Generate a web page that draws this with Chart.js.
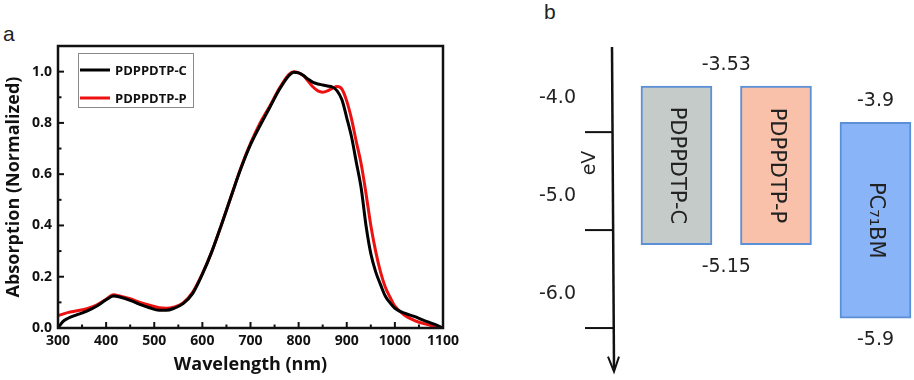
<!DOCTYPE html>
<html lang="en">
<head>
<meta charset="UTF-8" />
<title>Absorption spectra and energy levels</title>
<script src="https://cdn.jsdelivr.net/npm/chart.js"></script>
<style>
  body { margin: 0; background: #fff; width: 914px; height: 380px; position: relative; overflow: hidden; }
  canvas { position: absolute; top: 0; }
  #absCanvas { left: 0; }
  #levelCanvas { left: 500px; }
  .panel { position: absolute; font-family: "Liberation Sans", Arial, sans-serif; font-size: 21px; color: #222; }
</style>
</head>
<body>
<div class="panel" style="left:3px;top:22px">a</div>
<div class="panel" style="left:544px;top:0px">b</div>
<canvas id="absCanvas" width="495" height="380"></canvas>
<canvas id="levelCanvas" width="414" height="380"></canvas>
<script>
  // panel a : absorption spectra
  const wavelength = [300, 310, 320, 340, 360, 380, 400, 415, 430, 450, 470, 490, 510, 525, 540, 560, 580,
    600, 620, 640, 660, 680, 700, 720, 740, 760, 780, 790, 800, 810, 820, 830, 840, 850, 860, 870, 880,
    890, 900, 910, 920, 930, 940, 950, 960, 970, 980, 990, 1000, 1020, 1040, 1060, 1080, 1100];
  const absC = [0.0, 0.025, 0.037, 0.052, 0.066, 0.085, 0.11, 0.125, 0.12, 0.108, 0.092, 0.079, 0.069, 0.069, 0.076, 0.095, 0.135,
    0.21, 0.3, 0.405, 0.515, 0.622, 0.715, 0.79, 0.86, 0.93, 0.985, 0.998, 0.995, 0.985, 0.97, 0.958, 0.952, 0.948, 0.944, 0.94, 0.925,
    0.89, 0.82, 0.745, 0.645, 0.545, 0.4, 0.29, 0.22, 0.17, 0.125, 0.098, 0.077, 0.058, 0.045, 0.03, 0.016, 0.0];
  const absP = [0.048, 0.054, 0.06, 0.067, 0.075, 0.089, 0.112, 0.13, 0.124, 0.114, 0.1, 0.089, 0.079, 0.077, 0.081, 0.098, 0.14,
    0.212, 0.3, 0.405, 0.515, 0.625, 0.72, 0.8, 0.865, 0.935, 0.99, 1.0, 0.995, 0.984, 0.962, 0.94, 0.925, 0.92, 0.925, 0.935, 0.942,
    0.932, 0.885, 0.815, 0.725, 0.64, 0.525, 0.4, 0.3, 0.22, 0.16, 0.12, 0.085, 0.05, 0.03, 0.017, 0.008, 0.0];
  const seriesNames = ['PDPPDTP-C', 'PDPPDTP-P'];

  // panel b : energy levels (eV)
  const materials = ['PDPPDTP-C', 'PDPPDTP-P', 'PC\u2087\u2081BM'];
  const lumo = [-3.53, -3.53, -3.9];
  const homo = [-5.15, -5.15, -5.9];
  const evTicks = [-4, -5, -6];
  const labelGroups = [[0, 1], [2]];

  const frameTicks = {
    id: 'frameTicks',
    afterDraw(chart) {
      const { ctx, chartArea: a, scales: { x, y } } = chart;
      ctx.save();
      ctx.strokeStyle = '#111';
      ctx.lineWidth = 2;
      const tick = (x0, y0, x1, y1) => { ctx.beginPath(); ctx.moveTo(x0, y0); ctx.lineTo(x1, y1); ctx.stroke(); };
      const xv = x.ticks.map(t => t.value);
      xv.forEach((v, i) => {
        const px = x.getPixelForValue(v);
        tick(px, a.bottom, px, a.bottom - 6);
        if (i < xv.length - 1) {
          const m = x.getPixelForValue((v + xv[i + 1]) / 2);
          tick(m, a.bottom, m, a.bottom - 3.5);
        }
      });
      const yv = y.ticks.map(t => t.value);
      yv.forEach((v, i) => {
        const py = y.getPixelForValue(v);
        tick(a.left, py, a.left + 6, py);
        if (i < yv.length - 1) {
          const m = y.getPixelForValue((v + yv[i + 1]) / 2);
          tick(a.left, m, a.left + 3.5, m);
        }
      });
      ctx.lineWidth = 2.5;
      ctx.strokeRect(a.left, a.top, a.right - a.left, a.bottom - a.top);
      ctx.restore();
    }
  };

  const boxLegend = {
    id: 'boxLegend',
    afterDraw(chart) {
      const { ctx, chartArea: a } = chart;
      const bx = a.left + 20, by = a.top + 7;
      ctx.save();
      ctx.strokeStyle = '#8a8a8a';
      ctx.lineWidth = 1;
      ctx.strokeRect(bx + 0.5, by + 0.5, 115, 54);
      ctx.font = 'bold 13px "Open Sans", sans-serif';
      ctx.textBaseline = 'middle';
      chart.data.datasets.forEach((ds, i) => {
        const ry = by + 17 + i * 28;
        ctx.strokeStyle = ds.borderColor;
        ctx.lineWidth = 3;
        ctx.beginPath(); ctx.moveTo(bx + 2, ry); ctx.lineTo(bx + 32, ry); ctx.stroke();
        ctx.fillStyle = '#111';
        ctx.fillText(ds.label, bx + 37, ry + 1);
      });
      ctx.restore();
    }
  };

  new Chart(document.getElementById('absCanvas'), {
    type: 'line',
    data: {
      datasets: [
        { label: seriesNames[0], data: wavelength.map((w, i) => ({ x: w, y: absC[i] })),
          borderColor: '#000000', borderWidth: 3, pointRadius: 0, cubicInterpolationMode: 'monotone' },
        { label: seriesNames[1], data: wavelength.map((w, i) => ({ x: w, y: absP[i] })),
          borderColor: '#ee1111', borderWidth: 3, pointRadius: 0, cubicInterpolationMode: 'monotone' }
      ]
    },
    options: {
      responsive: false,
      animation: false,
      layout: { padding: { top: 46, right: 52 } },
      plugins: { legend: { display: false }, tooltip: { enabled: false } },
      scales: {
        x: {
          type: 'linear', min: 300, max: 1100,
          ticks: { stepSize: 100, callback: v => String(v), color: '#111',
            font: { family: '"Open Sans", sans-serif', size: 14, weight: 'bold' }, padding: 5, maxRotation: 0 },
          grid: { display: false, drawTicks: false },
          border: { display: false },
          title: { display: true, text: 'Wavelength (nm)', color: '#111', padding: { bottom: 4 },
            font: { family: '"Open Sans", sans-serif', size: 18, weight: 'bold' } },
          afterFit: s => { s.height = 52; }
        },
        y: {
          min: 0, max: 1.1,
          ticks: { stepSize: 0.2, includeBounds: false, callback: v => v.toFixed(1), color: '#111',
            font: { family: '"Open Sans", sans-serif', size: 14, weight: 'bold' }, padding: 6 },
          grid: { display: false, drawTicks: false },
          border: { display: false },
          title: { display: true, text: 'Absorption (Normalized)', color: '#111', padding: { top: 3 },
            font: { family: '"Open Sans", sans-serif', size: 18, weight: 'bold' } },
          afterFit: s => { s.width = 58; }
        }
      }
    },
    plugins: [frameTicks, boxLegend]
  });

  // energy level diagram
  const energyAxis = {
    id: 'energyAxis',
    afterDraw(chart) {
      const { ctx, chartArea: a, scales: { y } } = chart;
      const L = a.left;
      ctx.save();
      ctx.strokeStyle = '#111';
      ctx.fillStyle = '#111';
      ctx.lineWidth = 2.5;
      ctx.beginPath(); ctx.moveTo(L, a.top); ctx.lineTo(L + 2, a.bottom); ctx.stroke();
      ctx.lineWidth = 2;
      ctx.beginPath();
      ctx.moveTo(L - 4, a.bottom - 12); ctx.lineTo(L + 2, a.bottom + 3); ctx.lineTo(L + 7, a.bottom - 12);
      ctx.stroke();
      y.ticks.forEach(t => {
        const py = y.getPixelForValue(t.value);
        ctx.beginPath(); ctx.moveTo(L - 27, py); ctx.lineTo(L + 1, py); ctx.stroke();
      });
      ctx.font = '19px "DejaVu Sans", sans-serif';
      ctx.fillStyle = '#222';
      ctx.textAlign = 'center';
      ctx.textBaseline = 'middle';
      ctx.translate(L - 22, a.top + 116);
      ctx.rotate(-Math.PI / 2);
      ctx.fillText('eV', 0, 0);
      ctx.restore();
    }
  };

  const energyLabels = {
    id: 'energyLabels',
    afterDatasetsDraw(chart) {
      const { ctx } = chart;
      const bars = chart.getDatasetMeta(0).data.map(b => b.getProps(['x', 'y', 'base'], true));
      ctx.save();
      ctx.fillStyle = '#222';
      ctx.textAlign = 'center';
      ctx.textBaseline = 'middle';
      // names inside the bars
      ctx.font = '21px "DejaVu Sans", sans-serif';
      bars.forEach((b, i) => {
        const top = Math.min(b.y, b.base), bottom = Math.max(b.y, b.base);
        ctx.save();
        ctx.translate(b.x, (top + bottom) / 2);
        ctx.rotate(Math.PI / 2);
        ctx.fillText(materials[i], 0, 0);
        ctx.restore();
      });
      // level values
      ctx.font = '19px "DejaVu Sans", sans-serif';
      labelGroups.forEach(g => {
        const cx = g.reduce((s, i) => s + bars[i].x, 0) / g.length;
        const top = Math.min(bars[g[0]].y, bars[g[0]].base);
        const bottom = Math.max(bars[g[0]].y, bars[g[0]].base);
        ctx.fillText(String(lumo[g[0]]), cx, top - 21);
        ctx.fillText(String(homo[g[0]]), cx, bottom + 22);
      });
      ctx.restore();
    }
  };

  new Chart(document.getElementById('levelCanvas'), {
    type: 'bar',
    data: {
      datasets: [{
        data: materials.map((m, i) => ({ x: i, y: [homo[i], lumo[i]] })),
        backgroundColor: ['#c5cbc9', '#f9c1aa', '#8ab4f8'],
        borderColor: '#5b8fd6',
        borderWidth: 2,
        borderSkipped: false,
        barThickness: 71
      }]
    },
    options: {
      responsive: false,
      animation: false,
      layout: { padding: { top: 47, bottom: 8 } },
      plugins: { legend: { display: false }, tooltip: { enabled: false } },
      scales: {
        x: { type: 'linear', min: -0.648, max: 2.387, offset: false, display: false },
        y: {
          min: -6.414, max: -3.131,
          afterBuildTicks: s => { s.ticks = evTicks.map(v => ({ value: v })); },
          ticks: { callback: v => v.toFixed(1), labelOffset: -34, padding: 0, color: '#222',
            font: { family: '"DejaVu Sans", sans-serif', size: 19 } },
          grid: { display: false, drawTicks: true, tickLength: 36 },
          border: { display: false },
          afterFit: s => { s.width = 112; }
        }
      }
    },
    plugins: [energyAxis, energyLabels]
  });
</script>
</body>
</html>
